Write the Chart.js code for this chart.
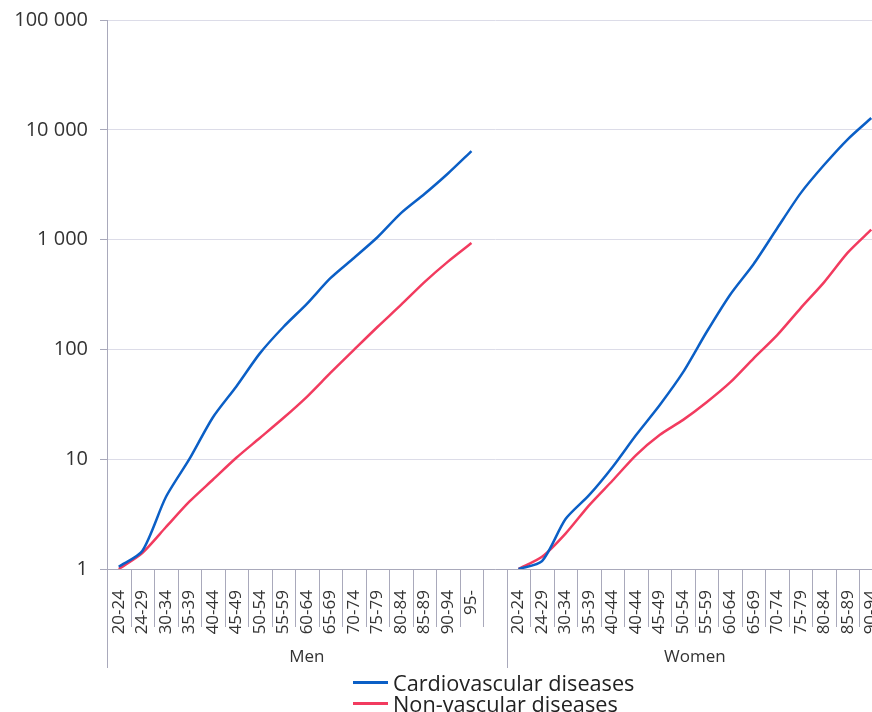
<!DOCTYPE html>
<html>
<head>
<meta charset="utf-8">
<script src="https://cdn.jsdelivr.net/npm/chart.js@4"></script>
<style>
  html, body { margin: 0; padding: 0; background: #fff; overflow: hidden; width: 872px; height: 712px; }
  #chart { position: absolute; left: 0; top: 0; }
  #legend { position: absolute; left: 353px; top: 672px; font-family: "Open Sans"; font-size: 21.7px; color: #222; }
  .item { display: flex; align-items: center; height: 21px; }
  .swatch { width: 35px; height: 3px; margin-right: 5px; }
</style>
</head>
<body>
<canvas id="chart" width="883" height="670"></canvas>
<div id="legend"></div>
<script>
// Age bands (the women's axis really lists 40-44 twice)
const menLabels = ["20-24", "24-29", "30-34", "35-39", "40-44", "45-49", "50-54", "55-59",
  "60-64", "65-69", "70-74", "75-79", "80-84", "85-89", "90-94", "95-"];
const womenLabels = ["20-24", "24-29", "30-34", "35-39", "40-44", "40-44", "45-49", "50-54",
  "55-59", "60-64", "65-69", "70-74", "75-79", "80-84", "85-89", "90-94"];
const groups = ["Men", "Women"];

const menCardio = [1.05, 1.46, 4.5, 10, 24, 46, 92, 160, 260, 445, 680, 1050, 1740, 2600, 4000, 6400];
const menNonVasc = [1.0, 1.4, 2.4, 4.1, 6.5, 10.3, 15.6, 23.7, 37, 61, 99, 160, 254, 410, 630, 930];
const womenCardio = [1.0, 1.18, 2.85, 4.7, 8.5, 16.6, 31, 62, 144, 315, 600, 1270, 2650, 4800, 8200, 12800];
const womenNonVasc = [1.0, 1.29, 2.1, 3.8, 6.4, 10.9, 16.6, 22.8, 33, 50, 83, 135, 238, 410, 760, 1230];

const yTicks = [1, 10, 100, 1000, 10000, 100000];

const allLabels = [...menLabels, "", ...womenLabels];
const gapAfter = (men, women) => [...men, null, ...women];

const axisColor = "#a9a9bb";

const groupLines = {
  id: "groupLines",
  afterDraw(chart) {
    const { ctx, chartArea } = chart;
    const x = chart.scales.x;
    const half = (x.getPixelForValue(1) - x.getPixelForValue(0)) / 2;
    const edges = [0, menLabels.length + 1, allLabels.length];
    ctx.save();
    ctx.strokeStyle = axisColor;
    ctx.lineWidth = 1;
    for (let i = 0; i <= allLabels.length; i++) {
      const px = Math.round(x.getPixelForValue(i) - half) + 0.5;
      const end = edges.includes(i) ? chartArea.bottom + 99 : chartArea.bottom + 58;
      ctx.beginPath();
      ctx.moveTo(px, chartArea.bottom);
      ctx.lineTo(px, end);
      ctx.stroke();
    }
    // group names under the age bands
    ctx.fillStyle = "#333";
    ctx.font = "17px 'Open Sans'";
    ctx.textAlign = "center";
    ctx.textBaseline = "middle";
    for (let g = 0; g < groups.length; g++) {
      const a = x.getPixelForValue(edges[g]) - half;
      const b = x.getPixelForValue(edges[g + 1]) - half;
      ctx.fillText(groups[g], (a + b) / 2, chartArea.bottom + 88);
    }
    ctx.restore();
  },
};

const datasets = [
  {
    label: "Cardiovascular diseases",
    data: gapAfter(menCardio, womenCardio),
    borderColor: "#0b5fc6",
  },
  {
    label: "Non-vascular diseases",
    data: gapAfter(menNonVasc, womenNonVasc),
    borderColor: "#f23b5f",
  },
];

const chart = new Chart(document.getElementById("chart"), {
  type: "line",
  data: {
    labels: allLabels,
    datasets: datasets.map((d) => ({
      ...d,
      backgroundColor: d.borderColor,
      borderWidth: 2.5,
      pointRadius: 0,
      tension: 0.25,
      spanGaps: false,
      fill: false,
    })),
  },
  options: {
    responsive: false,
    animation: false,
    devicePixelRatio: 1,
    layout: { padding: { top: 20, right: 0, bottom: 0, left: 0 } },
    plugins: {
      legend: { display: false },
      tooltip: { enabled: false },
    },
    scales: {
      x: {
        type: "category",
        offset: true,
        afterFit: (s) => {
          s.height = 101;
          s.paddingLeft = 0;
          s.paddingRight = 0;
        },
        grid: { display: false, offset: true },
        border: { display: true, color: axisColor },
        ticks: {
          autoSkip: false,
          minRotation: 90,
          maxRotation: 90,
          padding: 13,
          color: "#333",
          font: { family: "Open Sans", size: 17 },
        },
      },
      y: {
        type: "logarithmic",
        min: 1,
        max: 100000,
        afterBuildTicks: (s) => { s.ticks = yTicks.map((v) => ({ value: v })); },
        afterFit: (s) => {
          s.width = 107;
          s.paddingTop = 0;
          s.paddingBottom = 0;
        },
        grid: { color: "#dcdce8", tickColor: axisColor, tickLength: 7 },
        border: { color: axisColor },
        ticks: {
          padding: 12,
          color: "#333",
          font: { family: "Open Sans", size: 20 },
          callback: (v) => Number(v).toLocaleString("en-US").replace(/,/g, " "),
        },
      },
    },
  },
  plugins: [groupLines],
});

// legend as real text, one entry per line
const legend = document.getElementById("legend");
datasets.forEach((d) => {
  const item = document.createElement("div");
  item.className = "item";
  const sw = document.createElement("span");
  sw.className = "swatch";
  sw.style.background = d.borderColor;
  const txt = document.createElement("span");
  txt.textContent = d.label;
  item.appendChild(sw);
  item.appendChild(txt);
  legend.appendChild(item);
});
</script>
</body>
</html>
